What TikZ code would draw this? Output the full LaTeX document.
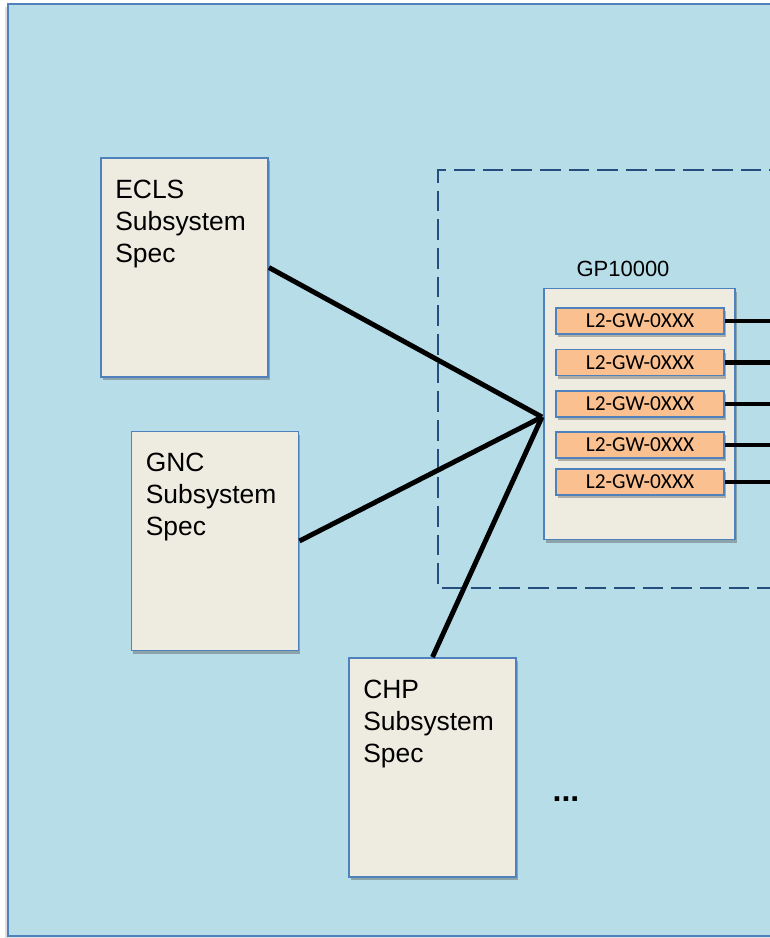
\documentclass[tikz,border=0pt]{standalone}
\usepackage{fontspec}
\setmainfont{Liberation Sans}
\newfontfamily\reqfont{Carlito}
\usetikzlibrary{shadows}

\definecolor{panelbg}{HTML}{B7DDE8}
\definecolor{edgeblue}{HTML}{4F81BD}
\definecolor{specfill}{HTML}{EEECE1}
\definecolor{reqfill}{HTML}{FAC090}
\definecolor{dashblue}{HTML}{254E7E}

\tikzset{
  softshadow/.style={drop shadow={shadow xshift=1.3pt, shadow yshift=-2.4pt, opacity=0.4, fill=black!70}},
  specbox/.style={draw=edgeblue, line width=1.4pt, fill=specfill, rectangle,
    minimum width=125.25pt, minimum height=164.25pt, inner sep=0pt, softshadow},
  spectext/.style={anchor=north west, align=left, inner sep=0pt,
    font=\fontsize{19.8pt}{24pt}\selectfont},
  gpbox/.style={draw=edgeblue, line width=1.4pt, fill=specfill, rectangle,
    minimum width=143.25pt, minimum height=188.25pt, inner sep=0pt, softshadow},
  reqbox/.style={draw=edgeblue, line width=1.2pt, fill=reqfill, rectangle,
    minimum width=126pt, minimum height=19.5pt, inner sep=0pt, softshadow,
    font=\reqfont\fontsize{16pt}{18pt}\selectfont},
  link/.style={line width=3.7pt, black},
  groupline/.style={draw=dashblue, line width=2.1pt, dash pattern=on 15.5pt off 6pt}
}

\begin{document}
\begin{tikzpicture}[x=0.75pt, y=-0.75pt]
  \useasboundingbox (0,0) rectangle (769,938);

  % outer panel
  \fill[black!25, opacity=0.5] (5,7) rectangle (790,939);
  \draw[draw=edgeblue, line width=1.6pt, fill=panelbg] (8,4) rectangle (790,936);

  % dashed grouping frame
  \draw[groupline] (790,170) -- (438,170) -- (438,588) -- (790,588);

  % subsystem specifications
  \node[specbox] (ecls) at (184.5,267.5) {};
  \node[spectext] (eclstext) at ([xshift=11.25pt, yshift=-17pt]ecls.north west) {ECLS\\Subsystem\\Spec};

  \node[specbox] (gnc) at (215,541) {};
  \node[spectext] (gnctext) at ([xshift=11.25pt, yshift=-17pt]gnc.north west) {GNC\\Subsystem\\Spec};

  \node[specbox] (chp) at (432.5,767.5) {};
  \node[spectext] (chptext) at ([xshift=11.25pt, yshift=-17pt]chp.north west) {CHP\\Subsystem\\Spec};

  \node[anchor=base, inner sep=0pt, font=\bfseries\fontsize{24pt}{26pt}\selectfont] (more) at (566,801.5) {...};

  % GP10000 document
  \node[font=\fontsize{16.5pt}{18pt}\selectfont] (gplabel) at (623,269) {GP10000};
  \node[gpbox] (gp) at (639.5,414) {};
  \coordinate (hub) at (542,417);

  \node[reqbox] (r1) at (640,321) {L2-GW-0XXX};
  \node[reqbox] (r2) at (640,362.5) {L2-GW-0XXX};
  \node[reqbox] (r3) at (640,404) {L2-GW-0XXX};
  \node[reqbox] (r4) at (640,445) {L2-GW-0XXX};
  \node[reqbox] (r5) at (640,482) {L2-GW-0XXX};

  \coordinate (o1) at (790,321);
  \coordinate (o2) at (790,362.5);
  \coordinate (o3) at (790,404);
  \coordinate (o4) at (790,445);
  \coordinate (o5) at (790,482);

  % traces
  \draw[link] (ecls.east) -- (hub);
  \draw[link] (gnc.east) -- (hub);
  \draw[link] (chp.north) -- (hub);

  \foreach \i in {1,...,5} {
    \draw[link] (r\i.east) -- (o\i);
  }
\end{tikzpicture}
\end{document}
